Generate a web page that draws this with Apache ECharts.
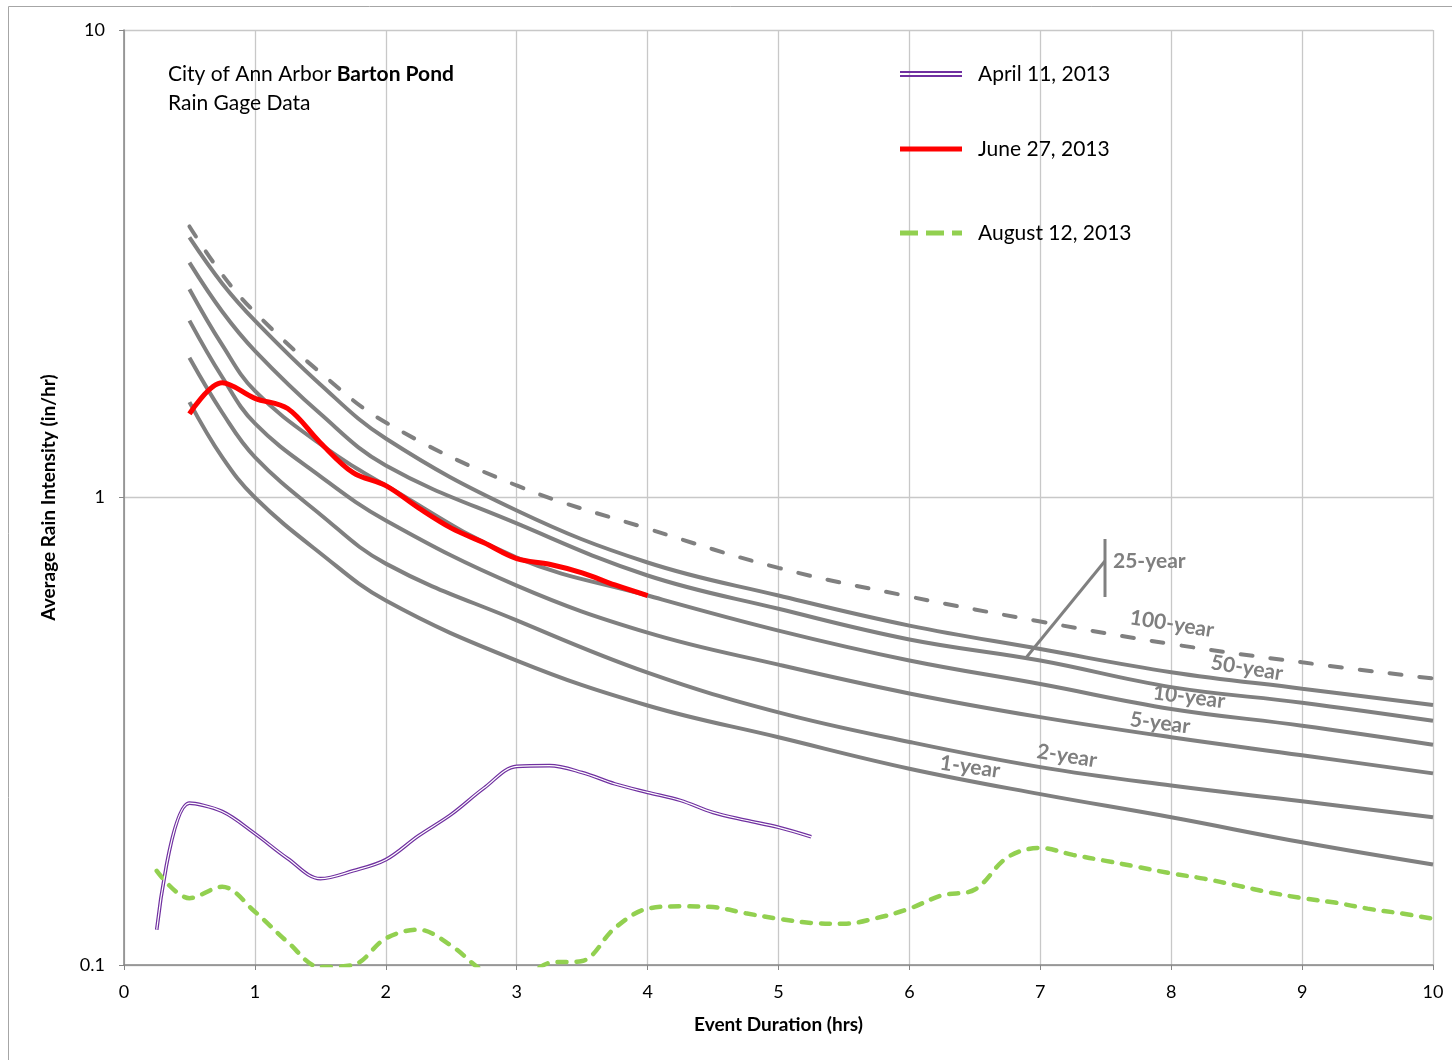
<!DOCTYPE html>
<html>
<head>
<meta charset="utf-8">
<title>Barton Pond Rain Gage Data</title>
<script src="https://cdn.jsdelivr.net/npm/echarts@6/dist/echarts.min.js"></script>
<style>
    html, body { margin: 0; padding: 0; background: #fff; }
    #chart { width: 1452px; height: 1060px; }
</style>
</head>
<body>
<div id="chart"></div>
<script>
// IDF design curves (durations in hours, intensity in in/hr)
const idfHours = [0.5, 0.75, 1, 1.5, 2, 3, 4, 5, 6, 7, 8, 9, 10];
const idf100yr = [3.80, 3.00, 2.49, 1.85, 1.447, 1.061, 0.858, 0.707, 0.614, 0.543, 0.486, 0.444, 0.410];
const idf50yr  = [3.60, 2.87, 2.39, 1.745, 1.337, 0.938, 0.726, 0.617, 0.532, 0.474, 0.423, 0.390, 0.360];
const idf25yr  = [3.18, 2.50, 2.06, 1.51, 1.171, 0.880, 0.681, 0.578, 0.497, 0.448, 0.393, 0.364, 0.333];
const idf10yr  = [2.79, 2.12, 1.69, 1.30, 1.061, 0.744, 0.617, 0.519, 0.448, 0.399, 0.353, 0.325, 0.296];
const idf5yr   = [2.39, 1.81, 1.44, 1.11, 0.893, 0.648, 0.514, 0.439, 0.381, 0.339, 0.307, 0.281, 0.257];
const idf2yr   = [1.99, 1.52, 1.22, 0.92, 0.722, 0.546, 0.422, 0.347, 0.300, 0.265, 0.242, 0.224, 0.207];
const idf1yr   = [1.60, 1.22, 1.00, 0.76, 0.602, 0.448, 0.359, 0.307, 0.263, 0.232, 0.207, 0.183, 0.164];

// measured storms
const aprilHours = [0.25, 0.5, 0.75, 1, 1.25, 1.5, 1.75, 2, 2.25, 2.5, 2.75, 3, 3.25, 3.5, 3.75, 4, 4.25, 4.5, 4.75, 5, 5.25];
const aprilValues = [0.119, 0.222, 0.213, 0.191, 0.169, 0.153, 0.159, 0.168, 0.189, 0.210, 0.239, 0.266, 0.267, 0.258, 0.244, 0.234, 0.225, 0.212, 0.204, 0.197, 0.188];

const juneHours = [0.5, 0.75, 1, 1.25, 1.5, 1.75, 2, 2.25, 2.5, 2.75, 3, 3.25, 3.5, 3.75, 4];
const juneValues = [1.51, 1.76, 1.63, 1.55, 1.31, 1.13, 1.06, 0.95, 0.86, 0.80, 0.74, 0.72, 0.69, 0.65, 0.617];

const augustHours = [0.25, 0.5, 0.75, 1, 1.25, 1.5, 1.75, 2, 2.25, 2.5, 2.75, 3, 3.25, 3.5, 3.75, 4, 4.25, 4.5, 4.75, 5,
    5.25, 5.5, 5.75, 6, 6.25, 6.5, 6.75, 7, 7.25, 7.5, 7.75, 8, 8.25, 8.5, 8.75, 9, 9.25, 9.5, 9.75, 10];
const augustValues = [0.159, 0.139, 0.147, 0.130, 0.112, 0.099, 0.100, 0.114, 0.119, 0.110, 0.097, 0.093, 0.101, 0.102, 0.120, 0.132, 0.1335, 0.133, 0.129, 0.1256,
    0.123, 0.1225, 0.126, 0.132, 0.141, 0.145, 0.170, 0.178, 0.172, 0.167, 0.162, 0.157, 0.153, 0.148, 0.143, 0.139, 0.136, 0.132, 0.129, 0.1256];

const eventNames = ['April 11, 2013', 'June 27, 2013', 'August 12, 2013'];
const yTicks = [0.1, 1, 10];

const FONT = 'Lato';
const GRAY = '#808080';

function pairs(xs, ys) {
    return xs.map((x, i) => [x, ys[i]]);
}

function idfSeries(name, values, dashed) {
    return {
        name: name,
        type: 'line',
        data: pairs(idfHours, values),
        smooth: 0.4,
        symbol: 'none',
        silent: true,
        z: 2,
        lineStyle: dashed
            ? { color: GRAY, width: 4, type: [12, 18], cap: 'round' }
            : { color: GRAY, width: 4 }
    };
}

const chart = echarts.init(document.getElementById('chart'));

// 图例（每项单独放置）
function legendAt(name, top, icon, h) {
    return {
        data: [{ name: name, icon: icon }],
        left: 900,
        top: top,
        padding: 0,
        itemWidth: 62,
        itemHeight: h,
        selectedMode: false,
        textStyle: { fontFamily: FONT, fontSize: 21, color: '#000', lineHeight: 26, padding: [0, 0, 0, 11] }
    };
}

function curveLabel(text, x, y, deg) {
    return {
        type: 'text',
        x: x,
        y: y,
        rotation: -deg * Math.PI / 180,
        z: 10,
        style: {
            text: text,
            font: 'bold 21px ' + FONT,
            fill: '#7f7f7f',
            align: 'center',
            verticalAlign: 'middle'
        }
    };
}

chart.setOption({
    animation: false,
    backgroundColor: '#fff',
    title: {
        left: 168,
        top: 60,
        padding: 0,
        text: '{n|City of Ann Arbor }{b|Barton Pond}\n{n|Rain Gage Data}',
        textStyle: {
            fontWeight: 'normal',
            rich: {
                n: { fontFamily: FONT, fontSize: 21, color: '#000', lineHeight: 29, fontWeight: 'normal' },
                b: { fontFamily: FONT, fontSize: 21, color: '#000', lineHeight: 29, fontWeight: 'bold' }
            }
        }
    },
    legend: [
        legendAt(eventNames[0], 61, 'path://M0,0H62V2H0ZM0,4H62V6H0Z', 6),
        legendAt(eventNames[1], 136, 'path://M0,0H62V5H0Z', 5),
        legendAt(eventNames[2], 220, 'path://M0,0H18V5H0ZM26,0H44V5H26ZM52,0H62V5H52Z', 5)
    ],
    grid: { left: 124, right: 19, top: 30, bottom: 95 },
    xAxis: {
        type: 'value',
        min: 0,
        max: 10,
        interval: 1,
        name: 'Event Duration (hrs)',
        nameLocation: 'middle',
        nameGap: 50,
        nameTextStyle: { fontFamily: FONT, fontSize: 19, fontWeight: 'bold', color: '#000' },
        axisLine: { onZero: false, lineStyle: { color: '#868686', width: 1.5 } },
        axisTick: { show: true, length: 5, lineStyle: { color: '#868686' } },
        axisLabel: { fontFamily: FONT, fontSize: 18, color: '#000', margin: 18 },
        splitLine: { show: true, lineStyle: { color: '#c8c8c8', width: 1.3 } }
    },
    yAxis: {
        type: 'log',
        logBase: 10,
        min: yTicks[0],
        max: yTicks[yTicks.length - 1],
        name: 'Average Rain Intensity (in/hr)',
        nameLocation: 'middle',
        nameGap: 66,
        nameTextStyle: { fontFamily: FONT, fontSize: 19, fontWeight: 'bold', color: '#000' },
        axisLine: { show: true, lineStyle: { color: '#868686', width: 1.5 } },
        axisTick: { show: true, length: 5, lineStyle: { color: '#868686' } },
        axisLabel: {
            fontFamily: FONT, fontSize: 18, color: '#000', margin: 19,
            formatter: v => String(+v.toPrecision(3))
        },
        minorTick: { show: false },
        splitLine: { show: true, lineStyle: { color: '#c8c8c8', width: 1.3 } }
    },
    series: [
        idfSeries('100-year', idf100yr, true),
        idfSeries('50-year', idf50yr),
        idfSeries('25-year', idf25yr),
        idfSeries('10-year', idf10yr),
        idfSeries('5-year', idf5yr),
        idfSeries('2-year', idf2yr),
        idfSeries('1-year', idf1yr),
        {
            name: eventNames[0],
            type: 'line',
            data: pairs(aprilHours, aprilValues),
            smooth: 0.35,
            symbol: 'none',
            z: 3,
            itemStyle: { color: '#7030a0' },
            lineStyle: { color: '#7030a0', width: 3.6 }
        },
        {
            // inner white stroke to make the double line
            name: 'april-inner',
            type: 'line',
            data: pairs(aprilHours, aprilValues),
            smooth: 0.35,
            symbol: 'none',
            silent: true,
            z: 4,
            lineStyle: { color: '#fff', width: 1.2 }
        },
        {
            name: eventNames[1],
            type: 'line',
            data: pairs(juneHours, juneValues),
            smooth: 0.35,
            symbol: 'none',
            z: 5,
            itemStyle: { color: '#ff0000' },
            lineStyle: { color: '#ff0000', width: 5 }
        },
        {
            name: eventNames[2],
            type: 'line',
            data: pairs(augustHours, augustValues),
            smooth: 0.35,
            symbol: 'none',
            z: 3,
            itemStyle: { color: '#92d050' },
            lineStyle: { color: '#92d050', width: 4.5, type: [9, 10], cap: 'round' }
        }
    ],
    graphic: [
        {
            type: 'rect',
            silent: true,
            z: -1,
            shape: { x: 8.5, y: 6.5, width: 1480, height: 1080 },
            style: { fill: 'none', stroke: '#a6a6a6', lineWidth: 1 }
        },
        {
            type: 'polyline',
            silent: true,
            z: 10,
            shape: { points: [[1025, 659], [1105, 561]] },
            style: { stroke: GRAY, lineWidth: 3 }
        },
        {
            type: 'line',
            silent: true,
            z: 10,
            shape: { x1: 1105, y1: 539, x2: 1105, y2: 597 },
            style: { stroke: GRAY, lineWidth: 3 }
        },
        {
            type: 'text',
            x: 1113,
            y: 561,
            z: 10,
            style: { text: '25-year', font: 'bold 21px ' + FONT, fill: '#7f7f7f', align: 'left', verticalAlign: 'middle' }
        },
        curveLabel('100-year', 1172, 624, 9),
        curveLabel('50-year', 1247, 668, 9),
        curveLabel('10-year', 1189, 697, 7),
        curveLabel('5-year', 1160, 723, 7),
        curveLabel('2-year', 1067, 756, 9),
        curveLabel('1-year', 970, 767, 8)
    ]
});

window.addEventListener('resize', () => {
    chart.resize();
});
</script>
</body>
</html>
